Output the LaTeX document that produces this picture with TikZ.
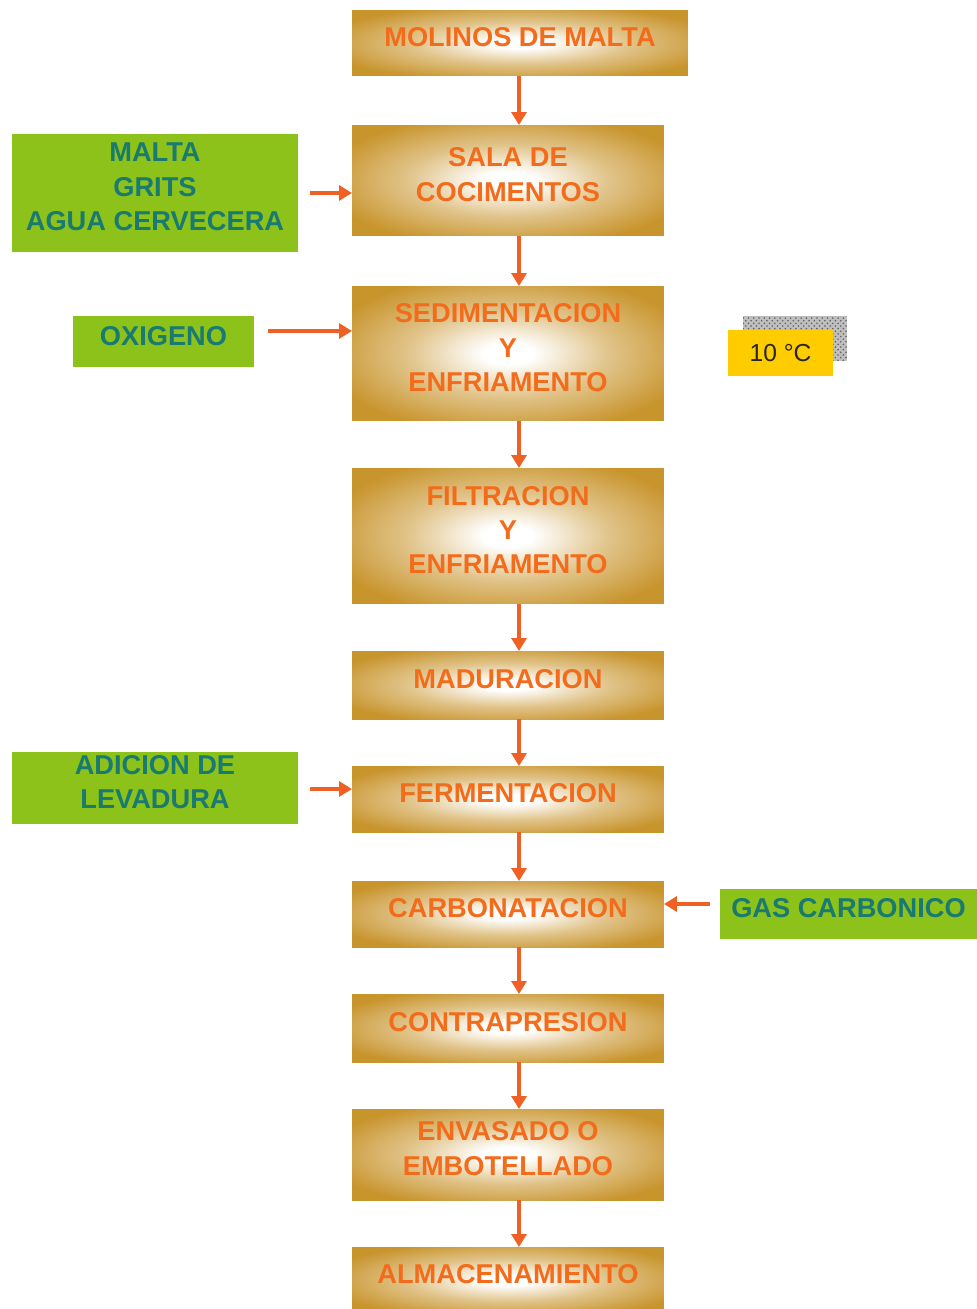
\documentclass[tikz,border=0pt]{standalone}
\usepackage{fontspec}
\setmainfont{Liberation Sans}
\usetikzlibrary{arrows.meta,patterns,calc}

\definecolor{boxgold}{RGB}{200,148,44}
\definecolor{steptext}{RGB}{242,108,28}
\definecolor{arrowor}{RGB}{238,96,36}
\definecolor{inputgreen}{RGB}{140,194,26}
\definecolor{inputtext}{RGB}{24,122,112}
\definecolor{tempyellow}{RGB}{255,204,0}

% soft white glow in the middle of each process box
\pgfdeclareradialshading{stepglow}{\pgfpoint{0bp}{0bp}}{%
  color(0bp)=(white); color(4bp)=(white); color(16bp)=(boxgold!55!white);
  color(30bp)=(boxgold); color(100bp)=(boxgold)}

\tikzset{
  stepbox/.style={shading=stepglow, inner sep=0pt, outer sep=0pt, align=center,
    font=\bfseries\fontsize{15.5}{19.6}\selectfont, text=steptext, text depth=0.24cm},
  inbox/.style={fill=inputgreen, inner sep=0pt, outer sep=0pt, align=center,
    font=\bfseries\fontsize{15.5}{19.6}\selectfont, text=inputtext, text depth=0.24cm},
  flow/.style={draw=arrowor, line width=1.8pt, -{Triangle[width=0.3cm,length=0.26cm]}},
}

\begin{document}
\begin{tikzpicture}[x=0.02cm,y=-0.02cm]
\useasboundingbox (0,0) rectangle (977,1309);
\clip (0,0) rectangle (977,1309);

% main process column
\node[stepbox, minimum width=6.72cm, minimum height=1.32cm] (mol) at (520,43) {MOLINOS DE MALTA};
\node[stepbox, minimum width=6.24cm, minimum height=2.22cm] (sala) at (508,180.5) {SALA DE\\COCIMENTOS};
\node[stepbox, minimum width=6.24cm, minimum height=2.70cm] (sed) at (508,353.5) {SEDIMENTACION\\Y\\ENFRIAMENTO};
\node[stepbox, minimum width=6.24cm, minimum height=2.72cm] (fil) at (508,536) {FILTRACION\\Y\\ENFRIAMENTO};
\node[stepbox, minimum width=6.24cm, minimum height=1.36cm] (mad) at (508,685) {MADURACION};
\node[stepbox, minimum width=6.24cm, minimum height=1.32cm] (fer) at (508,799) {FERMENTACION};
\node[stepbox, minimum width=6.24cm, minimum height=1.32cm] (car) at (508,914) {CARBONATACION};
\node[stepbox, minimum width=6.24cm, minimum height=1.36cm] (con) at (508,1028) {CONTRAPRESION};
\node[stepbox, minimum width=6.24cm, minimum height=1.82cm] (env) at (508,1154.5) {ENVASADO O\\EMBOTELLADO};
\node[stepbox, minimum width=6.24cm, minimum height=1.32cm] (alm) at (508,1280) {ALMACENAMIENTO};

% inputs
\node[inbox, minimum width=5.72cm, minimum height=2.36cm] (ins) at (155,193) {MALTA\\GRITS\\AGUA CERVECERA};
\node[inbox, minimum width=3.62cm, minimum height=1.02cm] (oxi) at (163.5,341.5) {OXIGENO};
\node[inbox, minimum width=5.72cm, minimum height=1.44cm] (lev) at (155,788) {ADICION DE\\LEVADURA};
\node[inbox, minimum width=5.14cm, minimum height=1.00cm] (gas) at (848.5,914) {GAS CARBONICO};

% temperature tag with its dotted shadow
\fill[gray!50] (743,316) rectangle (847,361);
\fill[pattern=crosshatch dots, pattern color=gray!75!black] (743,316) rectangle (847,361);
\node[fill=tempyellow, inner sep=0pt, outer sep=0pt, minimum width=2.10cm, minimum height=0.92cm,
  font=\fontsize{14}{16}\selectfont, text=black!85] (temp) at (780.5,353) {10 °C};

% arrow column and free arrow tails
\coordinate (colx) at (519,0);
\coordinate (insTail) at (310,193);
\coordinate (oxiTail) at (268,331);
\coordinate (levTail) at (310,789);
\coordinate (gasTail) at (710,904);

\draw[flow] (mol.south -| colx) -- (sala.north -| colx);
\draw[flow] (sala.south -| colx) -- (sed.north -| colx);
\draw[flow] (sed.south -| colx) -- (fil.north -| colx);
\draw[flow] (fil.south -| colx) -- (mad.north -| colx);
\draw[flow] (mad.south -| colx) -- (fer.north -| colx);
\draw[flow] (fer.south -| colx) -- (car.north -| colx);
\draw[flow] (car.south -| colx) -- (con.north -| colx);
\draw[flow] (con.south -| colx) -- (env.north -| colx);
\draw[flow] (env.south -| colx) -- (alm.north -| colx);

\draw[flow] (insTail) -- (sala.west |- insTail);
\draw[flow] (oxiTail) -- (sed.west |- oxiTail);
\draw[flow] (levTail) -- (fer.west |- levTail);
\draw[flow] (gasTail) -- (car.east |- gasTail);
\end{tikzpicture}
\end{document}
